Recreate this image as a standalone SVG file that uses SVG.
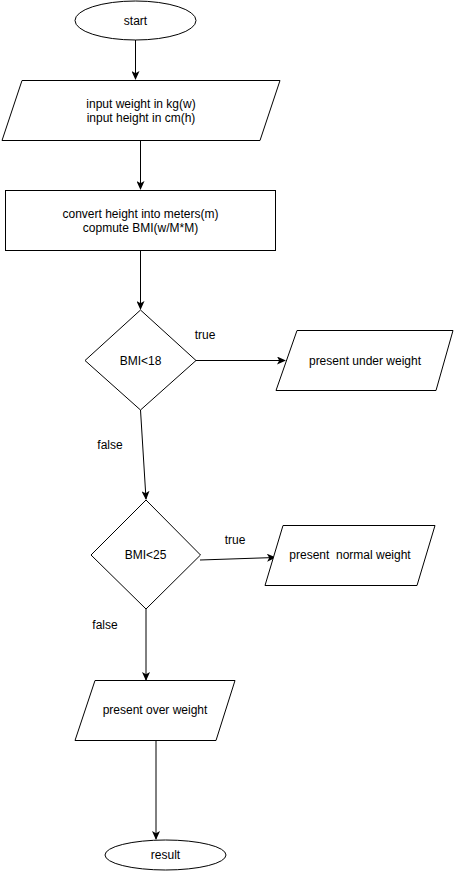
<svg xmlns="http://www.w3.org/2000/svg" width="456" height="871" viewBox="0 0 456 871">
<defs>
<style>
.s{fill:#fff;stroke:#000;stroke-width:1}
.t{font-family:"Liberation Sans",Arial,sans-serif;font-size:12px;fill:#000;text-anchor:middle}
.e{fill:none;stroke:#000;stroke-width:1}
</style>
<marker id="a" markerWidth="10" markerHeight="8" refX="8" refY="4" orient="auto" markerUnits="userSpaceOnUse">
<path d="M0,0 L9,4 L0,8 L2.2,4 Z" fill="#000"/>
</marker>
</defs>
<rect width="456" height="871" fill="#fff"/>
<g id="edges">
<path class="e" d="M135.5,40 L135.5,79" marker-end="url(#a)"/>
<path class="e" d="M140.5,140 L140.5,189" marker-end="url(#a)"/>
<path class="e" d="M140.5,250 L140.5,309" marker-end="url(#a)"/>
<path class="e" d="M196,360.5 L285,360.5" marker-end="url(#a)"/>
<path class="e" d="M140.5,410 L146,499" marker-end="url(#a)"/>
<path class="e" d="M200,560 L275,557.5" marker-end="url(#a)"/>
<path class="e" d="M146,609 L146,680" marker-end="url(#a)"/>
<path class="e" d="M156,740 L156,839" marker-end="url(#a)"/>
<text class="t" x="205" y="339">true</text>
<text class="t" x="110" y="449">false</text>
<text class="t" x="235" y="544">true</text>
<text class="t" x="105" y="629">false</text>
</g>
<g id="start">
<ellipse class="s" cx="135.5" cy="20.5" rx="60.5" ry="19.5"/>
<text class="t" x="135.5" y="24.5">start</text>
</g>
<g id="input">
<polygon class="s" points="22,80.5 280,80.5 260,140.5 2,140.5"/>
<text class="t" x="141" y="108">input weight in kg(w)</text>
<text class="t" x="141" y="122">input height in cm(h)</text>
</g>
<g id="compute">
<rect class="s" x="5.5" y="190.5" width="270" height="60"/>
<text class="t" x="140.5" y="218">convert height into meters(m)</text>
<text class="t" x="140.5" y="232">copmute BMI(w/M*M)</text>
</g>
<g id="bmi18">
<polygon class="s" points="140.5,310 196,360.5 140.5,410 85,360.5"/>
<text class="t" x="140.5" y="364.5">BMI&lt;18</text>
</g>
<g id="under">
<polygon class="s" points="297,330.5 453,330.5 436,390.5 276,390.5"/>
<text class="t" x="365" y="364.5">present under weight</text>
</g>
<g id="bmi25">
<polygon class="s" points="146,500 200.5,555 146,609 91,555"/>
<text class="t" x="145.5" y="559">BMI&lt;25</text>
</g>
<g id="normal">
<polygon class="s" points="283,525.5 435,525.5 417,585.5 265,585.5"/>
<text class="t" x="350" y="559" xml:space="preserve">present  normal weight</text>
</g>
<g id="over">
<polygon class="s" points="95,680.5 235,680.5 216,740.5 75,740.5"/>
<text class="t" x="155" y="714">present over weight</text>
</g>
<g id="result">
<ellipse class="s" cx="165.5" cy="855" rx="60.5" ry="15"/>
<text class="t" x="165.5" y="859">result</text>
</g>
</svg>
